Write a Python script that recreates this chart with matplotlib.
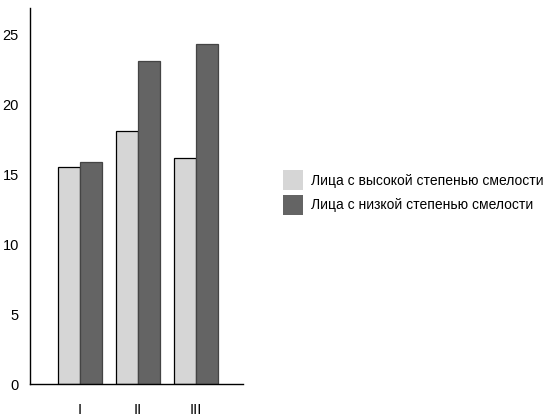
import numpy as np
import matplotlib.pyplot as plt
from matplotlib.patches import Patch

plt.rcParams['font.family'] = ['Liberation Sans', 'DejaVu Sans']

groups = ['I', 'II', 'III']
high = [15.5, 18.1, 16.2]
low = [15.9, 23.1, 24.3]
labels = ['Лица с высокой степенью смелости', 'Лица с низкой степенью смелости']
light = '#d6d6d6'
dark = '#646464'

fig = plt.figure(figsize=(5.54, 4.18), dpi=100)
ax = fig.add_axes([0.054, 0.0813, 0.3845, 0.8995])

x = np.arange(len(groups))
w = 0.38
ax.bar(x - w / 2, high, w, color=light, edgecolor='black', linewidth=0.9)
ax.bar(x + w / 2, low, w, color=dark, edgecolor='#444444', linewidth=0.9)

ax.set_xlim(-0.86, 2.81)
ax.set_ylim(0, 26.9)
ax.set_yticks([0, 5, 10, 15, 20, 25])
ax.set_xticks(x)
ax.set_xticklabels(groups)
ax.tick_params(axis='y', length=0, labelsize=10.5, pad=8)
ax.tick_params(axis='x', length=0, labelsize=10.5, pad=14)
for s in ['top', 'right']:
    ax.spines[s].set_visible(False)
for s in ['left', 'bottom']:
    ax.spines[s].set_linewidth(1.0)

handles = [Patch(facecolor=light, edgecolor='none'), Patch(facecolor=dark, edgecolor='none')]
fig.legend(handles, labels, loc='upper left', bbox_to_anchor=(0.511, 0.593),
           frameon=False, fontsize=10, handlelength=1.44, handleheight=1.84,
           handletextpad=0.55, labelspacing=0.35, borderpad=0, borderaxespad=0)

fig.savefig('out.png', dpi=100)
